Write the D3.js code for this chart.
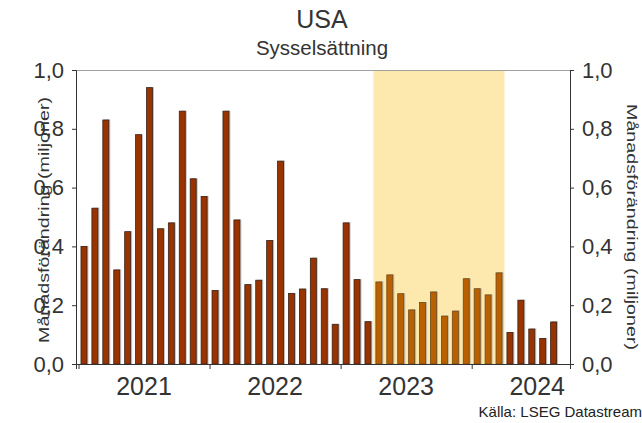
<!DOCTYPE html>
<html>
<head>
<meta charset="utf-8">
<script src="https://cdn.jsdelivr.net/npm/d3@7"></script>
<style>
  body { margin: 0; background: #fff; }
  svg { display: block; font-family: Arial, "Liberation Sans", sans-serif; }
</style>
</head>
<body>
<svg width="642" height="423"></svg>
<script>
// monthly change in US nonfarm payrolls, millions, Jan 2021 - Aug 2024
var values2021 = [0.40, 0.53, 0.83, 0.32, 0.45, 0.78, 0.94, 0.46, 0.48, 0.86, 0.63, 0.57];
var values2022 = [0.25, 0.86, 0.49, 0.27, 0.285, 0.42, 0.69, 0.24, 0.255, 0.36, 0.256, 0.135];
var values2023 = [0.48, 0.287, 0.144, 0.279, 0.303, 0.239, 0.184, 0.209, 0.245, 0.163, 0.18, 0.29];
var values2024 = [0.256, 0.235, 0.31, 0.107, 0.217, 0.119, 0.087, 0.143];
var yearLabels = ['2021', '2022', '2023', '2024'];
var yTicks = [0, 0.2, 0.4, 0.6, 0.8, 1.0];
// highlighted months (index from Jan 2021): Apr 2023 - Mar 2024
var highlightStart = 27;
var highlightEnd = 38;

var values = values2021.concat(values2022, values2023, values2024);

var margin = { top: 70, right: 72, bottom: 59, left: 76 };
var width = 642 - margin.left - margin.right;
var height = 423 - margin.top - margin.bottom;

var svg = d3.select('svg');
var g = svg.append('g').attr('transform', 'translate(' + margin.left + ',' + margin.top + ')');

// months as a continuous axis, 0 = start of Jan 2021
var x = d3.scaleLinear().domain([-0.23, 45]).range([0, width]);
var y = d3.scaleLinear().domain([0, 1]).range([height, 0]);

var fmt = function(d) { return d3.format('.1f')(d).replace('.', ','); };

// shaded period
g.append('rect')
    .attr('x', x(highlightStart))
    .attr('y', 0)
    .attr('width', x(highlightEnd + 1) - x(highlightStart))
    .attr('height', height)
    .attr('fill', '#fde9ad');

// top border
g.append('line')
    .attr('x1', 0).attr('x2', width)
    .attr('y1', 0.5).attr('y2', 0.5)
    .attr('stroke', '#a0a0a0');

var barW = 6;
var isHi = function(i) { return i >= highlightStart && i <= highlightEnd; };

// bar shadows
g.selectAll('.shadow')
    .data(values)
    .enter().append('rect')
    .attr('class', 'shadow')
    .attr('x', function(d, i) { return x(i + 0.5) - barW / 2 + 1.5; })
    .attr('y', function(d) { return y(d) - 0.5; })
    .attr('width', barW)
    .attr('height', function(d) { return height - y(d) + 0.5; })
    .attr('fill', '#9a9a9a')
    .attr('opacity', 0.6);

g.selectAll('.bar')
    .data(values)
    .enter().append('rect')
    .attr('class', 'bar')
    .attr('x', function(d, i) { return x(i + 0.5) - barW / 2; })
    .attr('y', function(d) { return y(d); })
    .attr('width', barW)
    .attr('height', function(d) { return height - y(d); })
    .attr('fill', function(d, i) { return isHi(i) ? '#bb6000' : '#993300'; })
    .attr('stroke', function(d, i) { return isHi(i) ? '#6e4a1a' : '#3a2218'; })
    .attr('stroke-width', 0.8);

// axes
var yLeft = d3.axisLeft(y).tickValues(yTicks).tickSize(4).tickPadding(8).tickFormat(fmt);
var yRight = d3.axisRight(y).tickValues(yTicks).tickSize(4).tickPadding(8).tickFormat(fmt);
var xAxis = d3.axisBottom(x).tickValues([0, 12, 24, 36]).tickSize(5).tickFormat('');

var gl = g.append('g').call(yLeft);
var gr = g.append('g').attr('transform', 'translate(' + width + ',0)').call(yRight);
var gx = g.append('g').attr('transform', 'translate(0,' + height + ')').call(xAxis);

[gl, gr, gx].forEach(function(a) {
  a.select('.domain').attr('stroke', '#333');
  a.selectAll('.tick line').attr('stroke', '#333');
  a.selectAll('text').attr('font-size', 22).attr('fill', '#333').attr('font-family', 'Arial, "Liberation Sans", sans-serif');
});

// year labels centred in each year
g.selectAll('.year')
    .data(yearLabels)
    .enter().append('text')
    .attr('class', 'year')
    .attr('x', function(d, i) { return x(i * 12 + 6); })
    .attr('y', height + 31)
    .attr('text-anchor', 'middle')
    .attr('font-size', 25)
    .attr('fill', '#333')
    .text(function(d) { return d; });

// titles
svg.append('text').attr('x', 322).attr('y', 28).attr('text-anchor', 'middle')
    .attr('font-size', 25).attr('fill', '#333').text('USA');
svg.append('text').attr('x', 322).attr('y', 55).attr('text-anchor', 'middle')
    .attr('font-size', 20.5).attr('fill', '#333').text('Sysselsättning');

// axis titles, narrow glyphs stretched along the axis like the original
var axisTitle = 'Månadsförändring (miljoner)';
svg.append('text')
    .attr('transform', 'translate(49,220) rotate(-90)')
    .attr('text-anchor', 'middle')
    .attr('font-size', 15)
    .attr('textLength', 246)
    .attr('lengthAdjust', 'spacingAndGlyphs')
    .attr('fill', '#333')
    .text(axisTitle);
svg.append('text')
    .attr('transform', 'translate(627,227) rotate(90)')
    .attr('text-anchor', 'middle')
    .attr('font-size', 15)
    .attr('textLength', 246)
    .attr('lengthAdjust', 'spacingAndGlyphs')
    .attr('fill', '#333')
    .text(axisTitle);

svg.append('text').attr('x', 642).attr('y', 417).attr('text-anchor', 'end')
    .attr('font-size', 15).attr('fill', '#222').text('Källa: LSEG Datastream');
</script>
</body>
</html>
